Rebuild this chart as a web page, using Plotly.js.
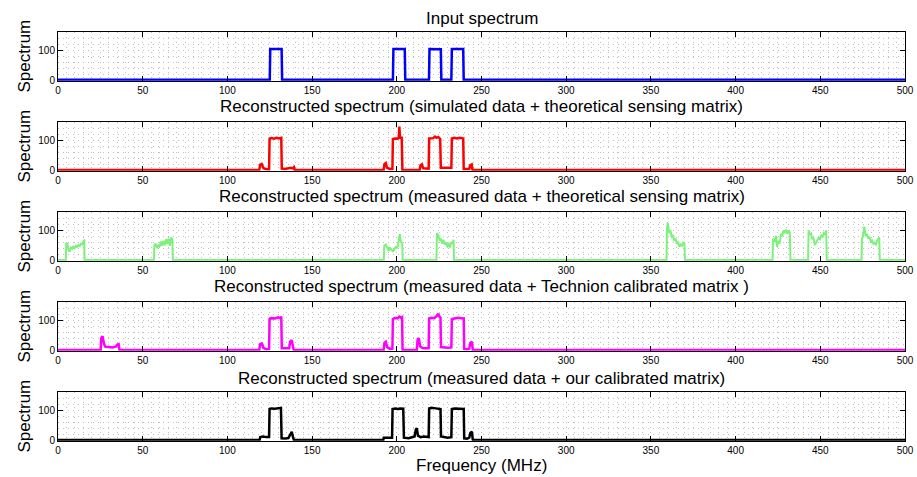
<!DOCTYPE html>
<html>
<head>
<meta charset="utf-8">
<script src="https://cdn.plot.ly/plotly-3.0.1.min.js"></script>
<style>html,body{margin:0;padding:0;background:#fff;}#chart{width:917px;height:477px;}</style>
</head>
<body>
<div id="chart"></div>
<script>
// ---------- data (frequency in MHz, spectrum value) ----------
var panelTitles = [
  "Input spectrum",
  "Reconstructed spectrum (simulated data + theoretical sensing matrix)",
  "Reconstructed spectrum (measured data + theoretical sensing matrix)",
  "Reconstructed spectrum (measured data + Technion calibrated matrix )",
  "Reconstructed spectrum (measured data + our calibrated matrix)"
];
var xTickVals = [0, 50, 100, 150, 200, 250, 300, 350, 400, 450, 500];
var yTickVals = [0, 100];

var inputFreq = [0, 125, 125.3, 132, 132.3, 197.7, 198, 204.7, 205, 219, 219.3, 226, 226.3, 232.2, 232.5, 239.2, 239.5, 500];
var inputVals = [1, 1, 104, 104, 1, 1, 104, 104, 1, 1, 104, 103, 1, 1, 104, 104, 1, 1];

var simFreq = [0, 118.8, 119.3, 120.3, 121.3, 123, 124.6, 124.9, 126, 127.5, 129, 130.5, 131.8, 132.1, 134, 136, 137.5, 138.5, 139.3, 139.8,
  192.2, 192.7, 193.5, 194.2, 196, 197.4, 197.7, 199, 200.5, 201.2, 201.5, 201.9, 202.9, 203.3,
  213.5, 214, 214.8, 215.6, 217.5, 218.8, 219.1, 220.5, 221.5, 222.5, 223.5, 224.5, 225.6, 226, 228, 230, 232.2,
  232.5, 234, 235.5, 237, 238.5, 239.2, 239.5, 241, 242.8, 243.3, 244.2, 244.7, 500];
var simVals = [0, 0, 18, 20, 6, 3, 3, 105, 107, 105, 108, 106, 108, 5, 4, 6, 8, 6, 10, 0,
  0, 20, 24, 8, 4, 4, 104, 106, 105, 110, 146, 108, 108, 0,
  0, 16, 19, 6, 5, 5, 106, 108, 107, 112, 108, 111, 104, 8, 8, 7, 8,
  106, 108, 106, 108, 107, 106, 4, 3, 4, 16, 19, 0, 0];

var measTheoFreq = [0, 4.6, 4.9, 5.5, 6.2, 6.8, 7.5, 8.3, 9, 9.8, 10.5, 11.3, 12, 12.8, 13.5, 14.3, 15.2, 15.5, 15.7,
  56.6, 56.9, 57.7, 58.5, 59.3, 60, 60.8, 61.5, 62.3, 63, 63.8, 64.5, 65.3, 66, 66.8, 67.5, 67.8,
  192.3, 192.6, 193.5, 194.5, 195.3, 196, 197, 197.8, 198.5, 199.5, 200.3, 201, 201.8, 202.4, 203.2, 203.5,
  223.4, 223.7, 224.5, 225.3, 226, 226.8, 227.5, 228.3, 229, 229.8, 230.5, 231.3, 232, 232.8, 233.5, 233.8,
  359.2, 359.5, 360, 360.8, 361.5, 362.3, 363, 363.8, 364.5, 365.3, 366, 366.8, 367.5, 368.3, 369, 369.8, 370.1,
  421.8, 422.1, 423, 423.8, 424.5, 425.3, 426, 426.8, 427.5, 428.3, 429, 429.8, 430.5, 431.3, 432, 432.4,
  442.8, 443.1, 443.8, 444.5, 445.3, 446, 446.8, 447.5, 448.3, 449, 449.8, 450.5, 451.3, 452, 452.8, 453.5, 453.8,
  474.3, 474.6, 475.3, 476, 476.8, 477.5, 478.3, 479, 479.8, 480.5, 481.3, 482, 482.8, 483.5, 484.3, 484.8, 485.1, 500];
var measTheoVals = [0, 0, 58, 55, 35, 28, 42, 38, 45, 40, 48, 44, 50, 47, 55, 52, 65, 66, 0,
  0, 50, 55, 40, 52, 45, 62, 48, 65, 50, 70, 55, 72, 48, 75, 70, 0,
  0, 48, 52, 38, 30, 42, 35, 28, 38, 44, 40, 58, 87, 60, 55, 0,
  0, 90, 85, 65, 72, 55, 68, 52, 60, 45, 55, 42, 60, 55, 68, 0,
  0, 110, 125, 90, 100, 75, 85, 65, 72, 55, 62, 45, 52, 48, 58, 55, 0,
  0, 72, 60, 82, 45, 65, 55, 88, 80, 100, 90, 102, 88, 100, 92, 0,
  0, 100, 85, 90, 70, 75, 50, 60, 65, 75, 70, 82, 78, 90, 85, 100, 0,
  0, 70, 85, 112, 80, 88, 72, 78, 62, 66, 55, 58, 50, 65, 72, 75, 0, 0];

var technionFreq = [0, 25.2, 25.5, 26.3, 27.2, 28, 30, 32, 34.3, 34.8, 35.8, 36.3,
  118.8, 119.3, 120.3, 121.3, 123, 124.6, 124.9, 126, 128, 130, 131.2, 131.8, 132.1, 134, 136.5, 137, 138, 138.8, 139.3,
  192.2, 192.7, 193.5, 194.3, 196, 197.4, 197.7, 199, 200.5, 201.5, 202.5, 203.1, 203.4,
  211.8, 212.3, 213, 213.8, 215.5, 218.8, 219.1, 220.5, 222, 223.5, 224.5, 225.2, 225.8, 226.1, 228, 230, 232.2,
  232.5, 234, 236, 238, 239.5, 239.8, 241.5, 242.8, 243.4, 244.3, 244.9, 500];
var technionVals = [0, 0, 40, 46, 20, 11, 10, 9, 12, 18, 20, 0,
  0, 20, 22, 7, 3, 4, 104, 107, 106, 110, 107, 112, 6, 5, 6, 28, 33, 8, 0,
  0, 24, 28, 10, 4, 5, 104, 108, 106, 112, 108, 110, 0,
  0, 36, 40, 12, 6, 6, 106, 108, 107, 114, 122, 112, 108, 10, 8, 8, 9,
  104, 106, 108, 107, 106, 4, 3, 5, 24, 28, 0, 0];

var ourFreq = [0, 119, 119.4, 121, 123, 124.6, 124.9, 126, 128, 130, 131.6, 132, 134, 136, 137.2, 138, 138.8, 139.3,
  192, 192.3, 195, 197.2, 197.5, 199, 200.5, 202, 203.8, 204.2, 207, 209, 210.5, 211.2, 211.8, 212.5, 214, 216, 218.8,
  219.1, 220.5, 222, 223.5, 225.8, 226.1, 228, 230, 232.2, 232.5, 234, 236, 238, 239.5, 239.8, 241.5, 242.8, 243.4, 244.3, 244.9, 500];
var ourVals = [0, 0, 10, 12, 10, 10, 104, 106, 105, 106, 108, 6, 5, 7, 22, 28, 8, 0,
  0, 8, 8, 8, 104, 106, 104, 106, 105, 8, 6, 8, 12, 35, 40, 15, 10, 12, 10,
  106, 108, 107, 106, 104, 12, 10, 8, 10, 104, 106, 105, 106, 104, 6, 5, 8, 24, 28, 0, 0];

var seriesFreq = [inputFreq, simFreq, measTheoFreq, technionFreq, ourFreq];
var seriesVals = [inputVals, simVals, measTheoVals, technionVals, ourVals];
var seriesColors = ["#0000ff", "#ff0000", "#7cf27c", "#ff00ff", "#000000"];
var seriesWidths = [2.5, 2.5, 2, 2.5, 2.5];

// ---------- layout ----------
var W = 917, H = 477;
var FONT = "Liberation Sans, Arial, Helvetica, sans-serif";
var plotTop = [32.3, 122.3, 212.3, 302.3, 392.3];
var plotBottom = [80.7, 170.7, 260.7, 350.7, 440.7];
var titleY = [18.5, 106.5, 196.5, 286.5, 378.5];
var GRID = "#c0c0c0";
var DASH = "1px,4px";

var traces = [];
var layout = {
  width: W, height: H,
  margin: {l: 0, r: 0, t: 0, b: 0},
  paper_bgcolor: "#fff", plot_bgcolor: "#fff",
  showlegend: false,
  annotations: []
};

for (var k = 0; k < 5; k++) {
  var sfx = k === 0 ? "" : String(k + 1);
  traces.push({
    type: "scatter", mode: "lines",
    x: seriesFreq[k], y: seriesVals[k],
    xaxis: "x" + sfx, yaxis: "y" + sfx,
    line: {color: seriesColors[k], width: seriesWidths[k]},
    hoverinfo: "skip"
  });
  layout["xaxis" + sfx] = {
    domain: [58 / W, 905 / W],
    anchor: "y" + sfx,
    range: [0, 500],
    tickmode: "array", tickvals: xTickVals,
    ticks: "inside", ticklen: 5, tickwidth: 1, tickcolor: "#000",
    showline: true, linecolor: "#000", linewidth: 1, mirror: "ticks",
    showgrid: true, griddash: DASH, gridcolor: GRID, gridwidth: 1,
    minor: {tick0: 0, dtick: 5, showgrid: true, griddash: DASH, gridcolor: GRID, gridwidth: 1, ticks: ""},
    zeroline: false,
    tickfont: {family: FONT, size: 10, color: "#000"},
    fixedrange: true
  };
  layout["yaxis" + sfx] = {
    domain: [(H - plotBottom[k]) / H, (H - plotTop[k]) / H],
    anchor: "x" + sfx,
    range: [-2, 160],
    tickmode: "array", tickvals: yTickVals,
    ticks: "inside", ticklen: 5, tickwidth: 1, tickcolor: "#000",
    showline: true, linecolor: "#000", linewidth: 1, mirror: "ticks",
    showgrid: true, griddash: DASH, gridcolor: GRID, gridwidth: 1,
    minor: {tick0: 0, dtick: 20, showgrid: true, griddash: DASH, gridcolor: GRID, gridwidth: 1, ticks: ""},
    zeroline: false,
    tickfont: {family: FONT, size: 10, color: "#000"},
    fixedrange: true
  };
  layout.annotations.push({
    text: panelTitles[k], xref: "paper", yref: "paper",
    x: 481.5 / W, y: (H - titleY[k]) / H, xanchor: "center", yanchor: "middle",
    showarrow: false, font: {family: FONT, size: 17, color: "#000"}
  });
  layout.annotations.push({
    text: "Spectrum", xref: "paper", yref: "paper", textangle: -90,
    x: 24 / W, y: (H - (plotTop[k] + plotBottom[k]) / 2) / H, xanchor: "center", yanchor: "middle",
    showarrow: false, font: {family: FONT, size: 17, color: "#000"}
  });
}
layout.annotations.push({
  text: "Frequency (MHz)", xref: "paper", yref: "paper",
  x: 481.5 / W, y: (H - 465) / H, xanchor: "center", yanchor: "middle",
  showarrow: false, font: {family: FONT, size: 17, color: "#000"}
});

Plotly.newPlot("chart", traces, layout, {staticPlot: true, displayModeBar: false});
</script>
</body>
</html>
